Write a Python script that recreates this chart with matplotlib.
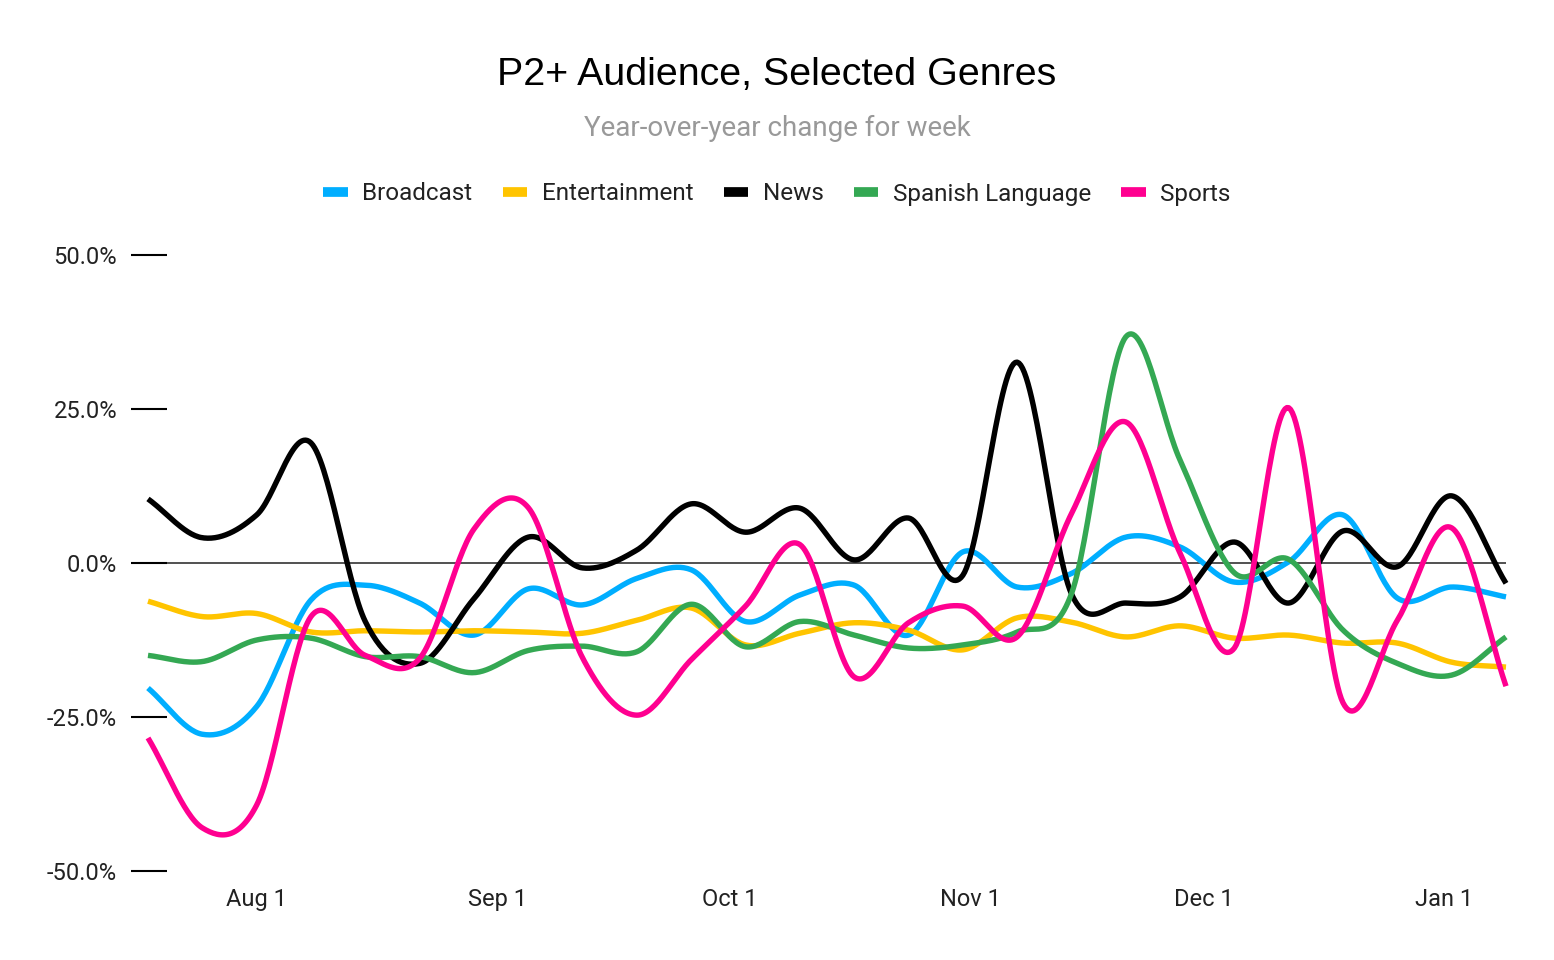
import matplotlib
matplotlib.use('Agg')
import matplotlib.pyplot as plt
import matplotlib.dates as mdates
import numpy as np
from datetime import datetime, timedelta
from matplotlib.lines import Line2D

plt.rcParams['font.family'] = ['Roboto', 'DejaVu Sans']
plt.rcParams['axes.unicode_minus'] = False

# weekly points, Jul 18 2020 .. Jan 9 2021
start = datetime(2020, 7, 18)
weeks = [start + timedelta(days=7 * i) for i in range(26)]

series_names = ['Broadcast', 'Entertainment', 'News', 'Spanish Language', 'Sports']
series_colors = ['#00aeff', '#ffc400', '#000000', '#34a853', '#ff0090']

broadcast = [-20.3, -27.8, -23.3, -6.0, -3.6, -6.5, -11.7, -4.2, -6.8, -2.5, -1.1, -9.5, -5.2,
             -3.6, -11.7, 1.8, -3.9, -1.7, 4.2, 2.6, -3.1, 0.2, 7.8, -5.7, -3.9, -5.5]
entertainment = [-6.2, -8.7, -8.2, -11.2, -11.0, -11.2, -11.0, -11.2, -11.4, -9.3, -7.3, -13.3, -11.4,
                 -9.7, -10.9, -14.1, -8.9, -9.6, -12.0, -10.2, -12.2, -11.7, -13.0, -13.0, -16.1, -16.9]
news = [10.4, 4.1, 7.8, 19.5, -9.5, -16.3, -5.8, 4.2, -0.8, 2.1, 9.6, 5.0, 8.9,
        0.5, 7.3, -2.0, 32.6, -5.0, -6.5, -5.5, 3.4, -6.5, 5.2, -0.6, 10.9, -3.3]
spanish = [-15.0, -16.0, -12.5, -12.2, -15.2, -15.2, -17.8, -14.2, -13.5, -14.4, -6.7, -13.6, -9.5,
           -11.7, -13.8, -13.3, -11.2, -5.0, 36.7, 16.7, -1.6, 0.6, -10.9, -16.3, -18.2, -12.0]
sports = [-28.4, -43.0, -39.3, -8.7, -15.0, -15.5, 5.5, 9.0, -15.4, -24.7, -15.7, -7.0, 3.0,
          -18.5, -9.7, -7.0, -12.0, 8.0, 22.9, 1.6, -13.8, 25.2, -22.7, -9.3, 5.7, -20.0]

all_series = [broadcast, entertainment, news, spanish, sports]

y_ticks = [-50, -25, 0, 25, 50]
y_labels = ['-50.0%', '-25.0%', '0.0%', '25.0%', '50.0%']


def smooth(vals, n=30):
    # catmull-rom style cubic through the weekly points
    p = np.array(vals, dtype=float)
    m = np.zeros_like(p)
    m[1:-1] = (p[2:] - p[:-2]) / 2
    m[0] = p[1] - p[0]
    m[-1] = p[-1] - p[-2]
    xs, ys = [], []
    t = np.linspace(0, 1, n, endpoint=False)
    for i in range(len(p) - 1):
        h00 = 2 * t**3 - 3 * t**2 + 1
        h10 = t**3 - 2 * t**2 + t
        h01 = -2 * t**3 + 3 * t**2
        h11 = t**3 - t**2
        ys.append(h00 * p[i] + h10 * m[i] + h01 * p[i + 1] + h11 * m[i + 1])
        xs.append(i + t)
    xs.append([len(p) - 1])
    ys.append([p[-1]])
    return np.concatenate(xs), np.concatenate(ys)


fig = plt.figure(figsize=(15.54, 9.6), dpi=100)
ax = fig.add_axes([131 / 1554, 1 - 871 / 960, (1506 - 131) / 1554, (871 - 255) / 960])

x0 = mdates.date2num(start)
ax.axhline(0, color='#333333', lw=1.2, zorder=1)
for vals, col in zip(all_series, series_colors):
    xi, yi = smooth(vals)
    ax.plot(x0 + 7 * xi, yi, color=col, lw=3.9, solid_capstyle='butt', zorder=3, clip_on=False)

ax.set_ylim(-50, 50)
ax.set_xlim(x0 - 17 / 7.76, x0 + 175)
ax.set_yticks(y_ticks)
ax.set_yticklabels(y_labels)
ax.xaxis.set_major_locator(mdates.MonthLocator())
ax.xaxis.set_major_formatter(plt.FuncFormatter(
    lambda v, pos: mdates.num2date(v).strftime('%b') + ' ' + str(mdates.num2date(v).day)))
ax.tick_params(axis='y', direction='in', length=26, width=1.5, color='black',
               labelsize=17, pad=10, labelcolor='#222222')
ax.tick_params(axis='x', length=0, labelsize=17, pad=12.5, labelcolor='#222222')
for s in ax.spines.values():
    s.set_visible(False)

fig.text(0.5, 1 - 75 / 960, 'P2+ Audience, Selected Genres', ha='center', va='center',
         fontsize=28.4, family=['Liberation Sans', 'DejaVu Sans'], color='black')
fig.text(0.5, 1 - 128 / 960, 'Year-over-year change for week', ha='center', va='center',
         fontsize=20, color='#999999')

handles = [Line2D([0], [0], color=c, lw=7, solid_capstyle='butt') for c in series_colors]
fig.legend(handles, series_names, loc='center', bbox_to_anchor=(0.5, 1 - 194 / 960), ncol=5,
           frameon=False, fontsize=17.5, handlelength=1.0, handletextpad=0.6, columnspacing=1.25,
           labelcolor='#222222')

fig.savefig('out.png', dpi=100)
